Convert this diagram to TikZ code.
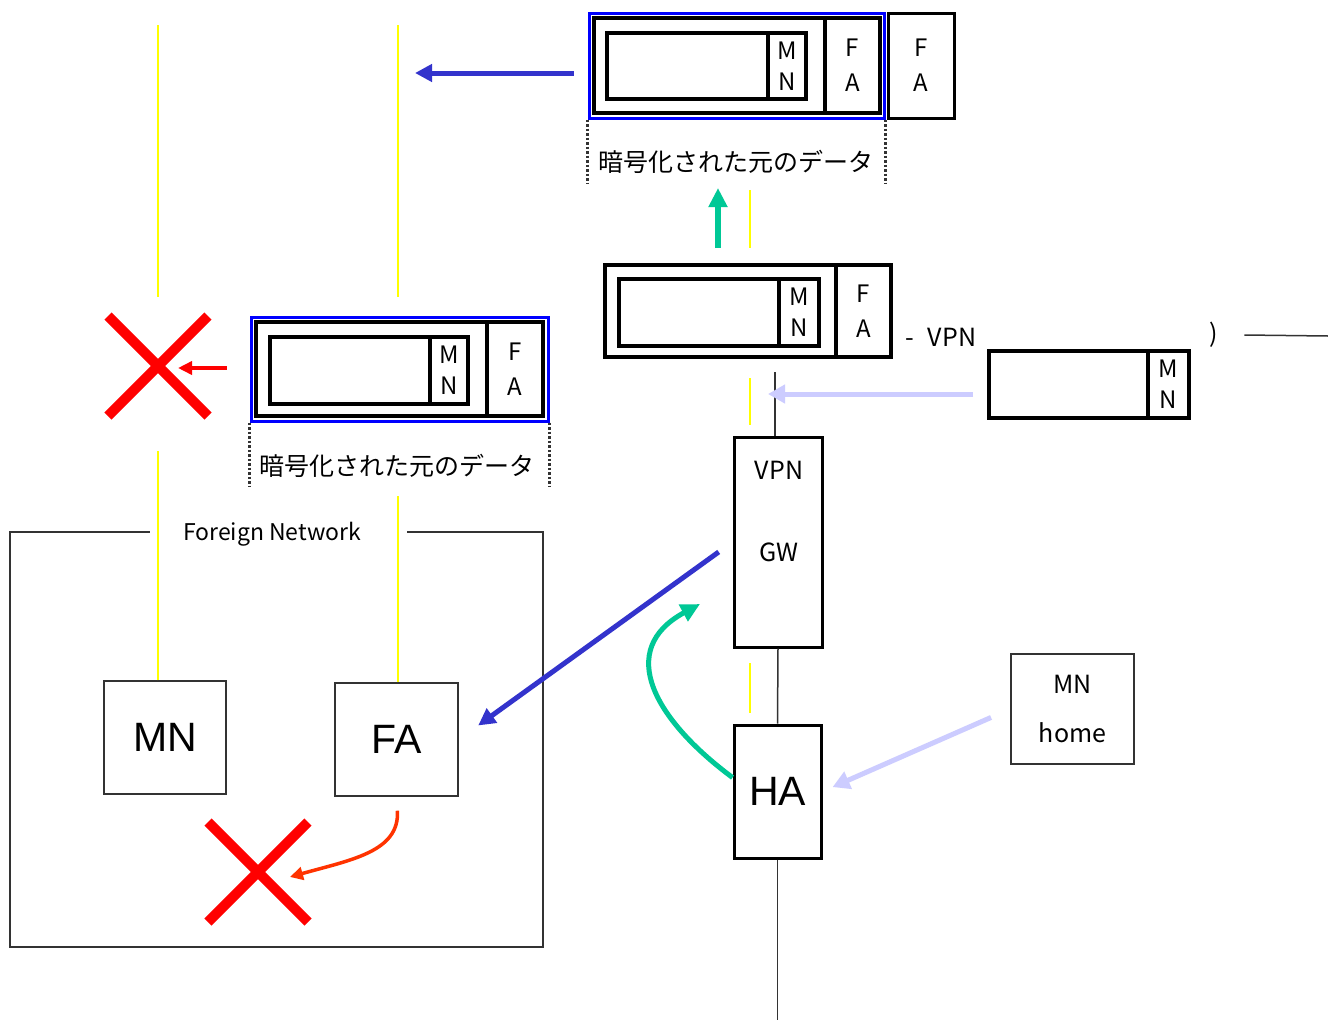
\documentclass[tikz,border=0pt]{standalone}
\usepackage{fontspec}
\setmainfont{Liberation Sans}
\newfontfamily\jpfont{Noto Sans CJK JP}
\usetikzlibrary{arrows.meta,positioning,shapes.misc}
\definecolor{tunYellow}{HTML}{FFFF00}
\definecolor{pktBlue}{HTML}{0000FF}
\definecolor{flowBlue}{HTML}{3333CC}
\definecolor{flowGreen}{HTML}{00C896}
\definecolor{flowLav}{HTML}{CCCCFF}
\definecolor{lostRed}{HTML}{FF0000}
\definecolor{flowOrange}{HTML}{FF3300}
\definecolor{lineGray}{HTML}{333333}
\tikzset{
  wrapBox/.style={draw=pktBlue, line width=3pt, inner sep=0pt},
  cellBox/.style={draw, line width=4pt, inner sep=0pt, align=center, font=\jpfont\fontsize{24}{31}\selectfont},
  faCell/.style={cellBox, font=\jpfont\fontsize{24}{35}\selectfont},
  nodeBox/.style={draw=lineGray, line width=1.5pt, inner sep=0pt, align=center},
  gwBox/.style={draw, line width=3pt, inner sep=0pt, align=center},
  bigText/.style={font=\fontsize{41}{44}\selectfont},
  smallText/.style={font=\jpfont\fontsize{25}{30}\selectfont, inner sep=0pt},
  dataLabel/.style={font=\jpfont\fontsize{25}{30}\selectfont, inner sep=0pt},
  tunLine/.style={draw=tunYellow, line width=2pt},
  wireLine/.style={draw=lineGray, line width=1.5pt},
  bracketLine/.style={draw=black!80, line width=2.5pt, dash pattern=on 2.5pt off 2pt},
  lostMark/.style={cross out, draw=lostRed, line width=10pt, minimum size=90pt, inner sep=0pt},
  blueArrow/.style={-{Triangle[length=17pt,width=17pt]}, line width=5pt, draw=flowBlue},
  greenArrow/.style={-{Triangle[length=19pt,width=18pt]}, line width=5pt, draw=flowGreen},
  lavArrow/.style={-{Triangle[length=17pt,width=18pt]}, line width=5pt, draw=flowLav},
  redArrow/.style={-{Triangle[length=14pt,width=13pt]}, line width=4.5pt, draw=lostRed},
  orangeArrow/.style={-{Triangle[length=13pt,width=13pt]}, line width=3.5pt, draw=flowOrange}
}
\begin{document}
\begin{tikzpicture}[x=1pt, y=-1pt]
  \useasboundingbox[fill=white] (0,0) rectangle (1328,1020);

  % encrypted packet, top
  \node[wrapBox, minimum width=295pt, minimum height=105pt] (topWrap) at (736.5,65.5) {};
  \node[cellBox, minimum width=286pt, minimum height=95pt] (topPkt) at (737,65.5) {};
  \node[faCell, minimum width=55pt, minimum height=95pt] (topFA) at (852.5,65.5) {F\\A};
  \node[cellBox, minimum width=199pt, minimum height=66pt] (topData) at (706.5,66) {};
  \node[cellBox, minimum width=38pt, minimum height=66pt] (topMN) at (787,66) {M\\N};
  \node[faCell, line width=3pt, minimum width=66pt, minimum height=105pt] (topFA2) at (921,65.5) {F\\A};
  \draw[bracketLine] (topWrap.south west) -- ++(0,64);
  \draw[bracketLine] (topWrap.south east) -- ++(0,64);
  \node[dataLabel] (topLbl) at (736,162) {暗号化された元のデータ};

  % packet in the tunnel
  \node[cellBox, minimum width=286pt, minimum height=92pt] (midPkt) at (748,311) {};
  \node[faCell, minimum width=55pt, minimum height=92pt] (midFA) at (863.5,311) {F\\A};
  \node[cellBox, minimum width=200pt, minimum height=67pt] (midData) at (719,312.5) {};
  \node[cellBox, minimum width=40pt, minimum height=67pt] (midMN) at (799,312.5) {M\\N};

  % encrypted packet, left
  \node[wrapBox, minimum width=297pt, minimum height=104pt] (leftWrap) at (399.5,369) {};
  \node[cellBox, minimum width=287pt, minimum height=94pt] (leftPkt) at (399.5,369) {};
  \node[faCell, minimum width=56pt, minimum height=94pt] (leftFA) at (515,369) {F\\A};
  \node[cellBox, minimum width=198pt, minimum height=67pt] (leftData) at (369,370.5) {};
  \node[cellBox, minimum width=38pt, minimum height=67pt] (leftMN) at (449,370.5) {M\\N};
  \draw[bracketLine] (leftWrap.south west) -- ++(0,64);
  \draw[bracketLine] (leftWrap.south east) -- ++(0,64);
  \node[dataLabel] (leftLbl) at (397,466) {暗号化された元のデータ};

  % plain packet, right
  \node[cellBox, minimum width=200pt, minimum height=67pt] (rightData) at (1089,384.5) {};
  \node[cellBox, minimum width=41pt, minimum height=67pt] (rightMN) at (1168.5,384.5) {M\\N};

  % tunnel caption
  \node[smallText, anchor=west] (tunTxt) at (905,337) {-\hspace{14pt}VPN};
  \node[smallText] (tunEnd) at (1214,335) {)};
  \coordinate (tunRight) at (1328,336);
  \draw[wireLine] ([xshift=26pt]tunEnd.east) -- (tunRight);

  % home side
  \node[gwBox, minimum width=88pt, minimum height=210pt] (gw) at (778,542) {};
  \node[smallText] (gwVpn) at (779,470) {VPN};
  \node[smallText] (gwGw) at (779,552) {GW};
  \node[gwBox, bigText, minimum width=87pt, minimum height=133pt] (ha) at (777.5,791.5) {HA};
  \node[nodeBox, minimum width=123pt, minimum height=110pt, font=\jpfont\fontsize{25}{49}\selectfont] (mnHome) at (1072.5,709) {MN\\home};

  % foreign network
  \node[smallText, font=\jpfont\fontsize{23}{26}\selectfont] (fnLbl) at (272,534) {Foreign Network};
  \draw[wireLine] ([xshift=-33pt,yshift=2pt]fnLbl.west) -| (10,947) -| (543,532) -- ([xshift=46pt,yshift=2pt]fnLbl.east);
  \node[nodeBox, bigText, minimum width=122pt, minimum height=113pt] (mnF) at (165,737.5) {MN};
  \node[nodeBox, bigText, minimum width=123pt, minimum height=113pt] (faF) at (396.5,739.5) {FA};

  \node[lostMark] (lostA) at (158,366) {};
  \node[lostMark] (lostB) at (258,872) {};

  % yellow paths
  \draw[tunLine] (158,25) -- (158,297);
  \draw[tunLine] (398,25) -- (398,297);
  \draw[tunLine] ([xshift=-7pt]mnF.north) -- ++(0,-229);
  \draw[tunLine] ([xshift=1.5pt]faF.north) -- ++(0,-186);
  \draw[tunLine] (750,190) -- (750,248);
  \draw[tunLine] (750,378) -- (750,425);
  \draw[tunLine] (750,663) -- (750,713);

  % wires
  \draw[wireLine] ([xshift=-3pt]gw.north) -- ++(0,-64);
  \draw[wireLine] (gw.south) -- (ha.north);
  \draw[wireLine] (ha.south) -- ++(0,165);

  % flows
  \coordinate (blueEnd) at (415,73);
  \coordinate (lavEnd) at (768,394);
  \coordinate (upFrom) at (718,248);
  \coordinate (upTo) at (718,188);
  \coordinate (greenEnd) at (700,604);
  \draw[blueArrow, shorten <=14pt] ([yshift=-7.5pt]topWrap.west) -- (blueEnd);
  \draw[greenArrow, line width=6pt] (upFrom) -- (upTo);
  \draw[lavArrow, shorten <=14pt] ([yshift=-9.5pt]rightData.west) -- (lavEnd);
  \draw[blueArrow, shorten <=17pt, shorten >=24pt] (gw.west) -- (faF.east);
  \draw[greenArrow] ([yshift=14pt]ha.west) .. controls (655,720) and (615,650) .. (greenEnd);
  \draw[lavArrow, shorten <=21pt, shorten >=11pt] (mnHome.west) -- (ha.east);
  \draw[redArrow, shorten <=23pt, shorten >=20pt] ([yshift=1pt]leftWrap.west) -- ([yshift=-2pt]lostA.center);
  \draw[orangeArrow, shorten <=14pt] (faF.south) .. controls (400,852) and (350,860) .. ([xshift=32pt,yshift=-5pt]lostB.center);
\end{tikzpicture}
\end{document}
